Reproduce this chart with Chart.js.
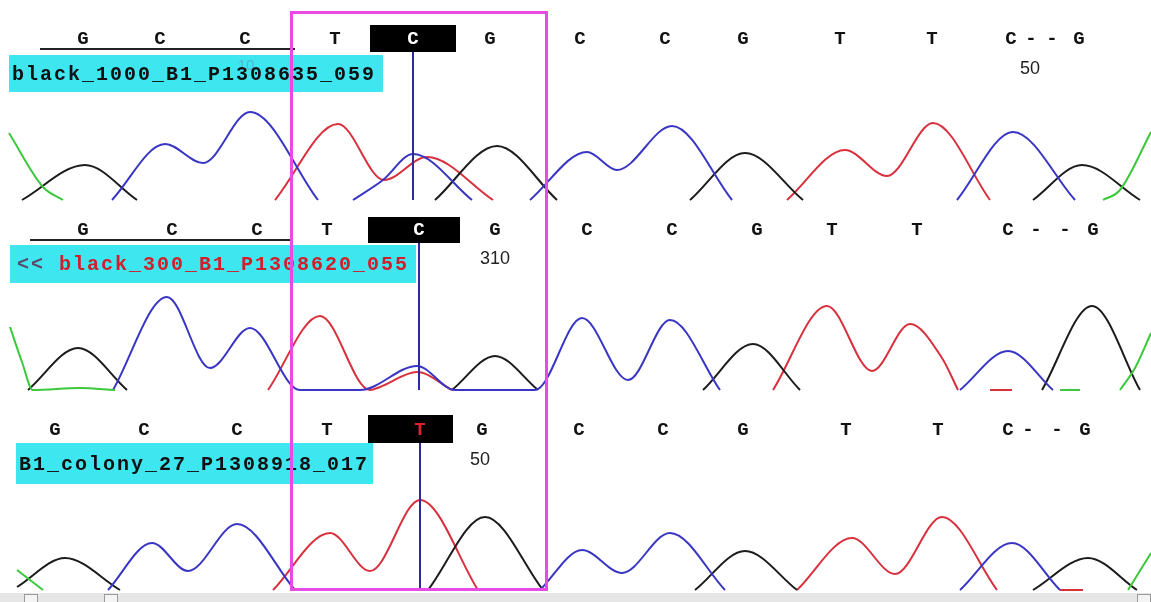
<!DOCTYPE html>
<html>
<head>
  <title>Chromatogram</title>
  <script src="https://cdn.jsdelivr.net/npm/chart.js"></script>
  <style>
    body { margin: 0; background: #fff; }
    #wrap { position: relative; width: 1151px; height: 602px; overflow: hidden; background: #fff; }
    canvas { position: absolute; left: 0; }
    #pick { position: absolute; left: 290px; top: 11px; width: 252px; height: 574px; border: 3px solid #e94ae6; z-index: 5; }
    #scroll { position: absolute; left: 0; top: 593px; width: 1151px; height: 9px; background: #e6e6e6; }
    .knob { position: absolute; top: 1px; width: 12px; height: 10px; border: 1px solid #9a9a9a; background: #f4f4f4; }
  </style>
</head>
<body>
<div id="wrap">
  <canvas id="c1" width="1151" height="203" style="top:0px"></canvas>
  <canvas id="c2" width="1151" height="193" style="top:200px"></canvas>
  <canvas id="c3" width="1151" height="203" style="top:390px"></canvas>
  <div id="pick"></div>
  <div id="scroll">
    <div class="knob" style="left:24px"></div>
    <div class="knob" style="left:104px"></div>
    <div class="knob" style="left:1137px"></div>
  </div>
</div>
<script>
// base calls and their scan positions
const calls1 = ['G','C','C','T','C','G','C','C','G','T','T','C','-','-','G'];
const pos1   = [83,160,245,335,413,490,580,665,743,840,932,1011,1031,1052,1079];
const calls2 = ['G','C','C','T','C','G','C','C','G','T','T','C','-','-','G'];
const pos2   = [83,172,257,327,419,495,587,672,757,832,917,1008,1036,1065,1093];
const calls3 = ['G','C','C','T','T','G','C','C','G','T','T','C','-','-','G'];
const pos3   = [55,144,237,327,420,482,579,663,743,846,938,1008,1028,1057,1085];

const names = ['black_1000_B1_P1308635_059', 'black_300_B1_P1308620_055', 'B1_colony_27_P1308918_017'];
const numLabels = [['50', 1030], ['310', 495], ['50', 480]];

// trace samples [scan position, signal]; null = gap
const p1A = [[9,67],[43,13],[63,0], null, [1103,0],[1120,10],[1151,68]];
const p1C = [[112,0],[165,56],[203,37],[250,88],[318,0], null, [353,0],[383,20],[413,46],[472,0], null,
             [530,0],[587,48],[617,30],[672,74],[732,0], null, [957,0],[1013,68],[1075,0]];
const p1G = [[22,0],[85,35],[137,0], null, [435,0],[497,54],[557,0], null, [690,0],[745,47],[803,0], null,
             [1033,0],[1082,35],[1140,0]];
const p1T = [[275,0],[338,76],[384,20],[427,43],[493,0], null, [787,0],[845,50],[887,24],[933,77],[990,0]];

const p2A = [[10,63],[22,28],[33,0],[80,2],[115,0], null, [1060,0],[1080,0], null, [1120,0],[1135,22],[1151,57]];
const p2C = [[113,0],[167,93],[210,22],[250,62],[300,0],[360,0],[417,24],[455,0],[515,0],[535,0],
             [582,72],[628,10],[670,70],[720,0], null, [960,0],[1008,39],[1053,0]];
const p2G = [[28,0],[78,42],[127,0], null, [452,0],[495,34],[538,0], null, [703,0],[753,46],[800,0], null,
             [1042,0],[1092,84],[1140,0]];
const p2T = [[268,0],[320,74],[370,0],[380,3],[417,18],[452,0], null,
             [773,0],[827,84],[872,19],[910,66],[942,32],[958,0], null, [990,0],[1012,0]];

const p3A = [[17,20],[43,0], null, [1128,0],[1151,37]];
const p3C = [[108,0],[152,47],[188,19],[237,66],[295,0], null, [540,0],[582,40],[622,17],[670,57],[725,0], null,
             [960,0],[1012,47],[1060,0]];
const p3G = [[17,3],[65,32],[120,0], null, [428,0],[485,73],[543,0], null, [695,0],[745,39],[797,0], null,
             [1033,0],[1088,32],[1137,0]];
const p3T = [[273,0],[330,57],[370,19],[420,90],[478,0], null, [797,0],[852,52],[895,16],[942,73],[997,0], null,
             [1060,0],[1083,0]];

const colA = '#3cc83c', colC = '#3a36c4', colG = '#1c1c1c', colT = '#d8303c';

function toPoints(arr) {
  return arr.map((p, i) => {
    if (p) return {x: p[0], y: p[1]};
    return {x: (arr[i - 1][0] + arr[i + 1][0]) / 2, y: null};
  });
}

const deco = {
  id: 'deco',
  afterDraw(chart, args, o) {
    const ctx = chart.ctx, xs = chart.scales.x, ys = chart.scales.y;
    const top = o.top;
    ctx.save();
    // label box
    ctx.fillStyle = '#3ee6f0';
    ctx.fillRect(o.label[0], o.label[1] - top, o.label[2] - o.label[0], o.label[3] - o.label[1]);
    if (o.faint) {
      ctx.font = '15px "Liberation Sans"';
      ctx.fillStyle = 'rgba(90,150,200,0.6)';
      ctx.textAlign = 'center';
      ctx.textBaseline = 'middle';
      ctx.fillText('10', 246, 66 - top);
    }
    ctx.font = 'bold 20px "Liberation Mono"';
    ctx.letterSpacing = '2px';
    ctx.textAlign = 'left';
    ctx.textBaseline = 'middle';
    const ty = (o.label[1] + o.label[3]) / 2 - top + 1;
    if (o.prefix) {
      ctx.fillStyle = '#5a4a6a';
      ctx.fillText(o.prefix, o.label[0] + 7, ty);
      ctx.fillStyle = '#d0202c';
      ctx.fillText(o.name, o.label[0] + 7 + 42, ty);
    } else {
      ctx.fillStyle = '#111';
      ctx.fillText(o.name, o.label[0] + 3, ty);
    }
    ctx.letterSpacing = '0px';
    // underline
    if (o.under) {
      ctx.strokeStyle = '#222';
      ctx.lineWidth = 2;
      ctx.beginPath();
      ctx.moveTo(o.under[0], o.under[2] - top);
      ctx.lineTo(o.under[1], o.under[2] - top);
      ctx.stroke();
    }
    // highlighted call box
    ctx.fillStyle = '#000';
    ctx.fillRect(o.box[0], o.box[1] - top, o.box[2] - o.box[0], o.box[3] - o.box[1]);
    // base calls
    ctx.font = 'bold 19px "Liberation Mono"';
    ctx.textAlign = 'center';
    o.calls.forEach((b, i) => {
      ctx.fillStyle = i === o.sel ? o.selColor : '#111';
      ctx.fillText(b, xs.getPixelForValue(o.pos[i]), o.callY - top);
    });
    // position number
    ctx.font = '18px "Liberation Sans"';
    ctx.fillStyle = '#222';
    ctx.fillText(o.num[0], o.num[1], o.numY - top);
    // cursor
    const cx = xs.getPixelForValue(o.pos[o.sel]);
    ctx.strokeStyle = '#2c2a9c';
    ctx.lineWidth = 2;
    ctx.beginPath();
    ctx.moveTo(cx, o.box[3] - top);
    ctx.lineTo(cx, ys.getPixelForValue(0));
    ctx.stroke();
    ctx.restore();
  }
};

function makePanel(id, top, h, traces, d) {
  const sets = [[traces[0], colA], [traces[1], colC], [traces[2], colG], [traces[3], colT]];
  d.top = top;
  return new Chart(document.getElementById(id), {
    type: 'line',
    data: {
      datasets: sets.map(s => ({
        data: toPoints(s[0]),
        borderColor: s[1],
        borderWidth: 2,
        pointRadius: 0,
        fill: false,
        spanGaps: false,
        cubicInterpolationMode: 'monotone'
      }))
    },
    options: {
      responsive: false,
      animation: false,
      events: [],
      layout: {padding: 0},
      scales: {
        x: {type: 'linear', min: 0, max: 1151, display: false},
        y: {min: -3, max: h - 3, display: false}
      },
      plugins: {legend: {display: false}, tooltip: {enabled: false}, deco: d}
    },
    plugins: [deco]
  });
}

makePanel('c1', 0, 203, [p1A, p1C, p1G, p1T], {
  calls: calls1, pos: pos1, sel: 4, selColor: '#fff', callY: 39,
  box: [370, 25, 456, 52], under: [40, 295, 49],
  label: [9, 55, 383, 92], name: names[0], faint: true,
  num: numLabels[0], numY: 69
});
makePanel('c2', 200, 193, [p2A, p2C, p2G, p2T], {
  calls: calls2, pos: pos2, sel: 4, selColor: '#fff', callY: 230,
  box: [368, 217, 460, 243], under: [30, 292, 240],
  label: [10, 245, 416, 283], prefix: '<<', name: names[1],
  num: numLabels[1], numY: 259
});
makePanel('c3', 390, 203, [p3A, p3C, p3G, p3T], {
  calls: calls3, pos: pos3, sel: 4, selColor: '#e0202c', callY: 430,
  box: [368, 415, 453, 443],
  label: [16, 443, 373, 484], name: names[2],
  num: numLabels[2], numY: 460
});
</script>
</body>
</html>
